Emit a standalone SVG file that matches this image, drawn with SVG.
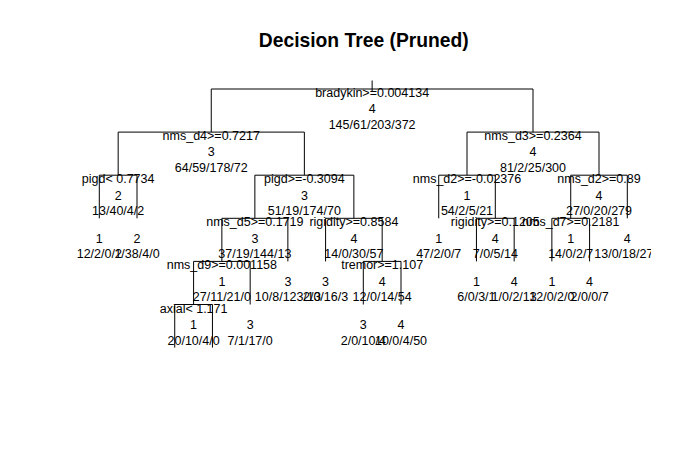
<svg xmlns="http://www.w3.org/2000/svg" width="689" height="457" viewBox="0 0 689 457">
<style>
text{font-family:"Liberation Sans",Arial,sans-serif;font-size:12.5px;fill:#000;text-anchor:middle}
.title{font-size:19.3px;font-weight:bold}
.br{fill:none;stroke:#000;stroke-width:1}
</style>
<defs><clipPath id="plot"><rect x="0" y="0" width="651" height="357"/></clipPath></defs>
<rect width="689" height="457" fill="#fff"/>
<text class="title" x="363.8" y="47">Decision Tree (Pruned)</text>
<g id="connectors" class="br">
<path d="M372.13 80.5V92"/>
<path d="M211.26 132.1V89H533V132.1"/>
<path d="M118.16 175.2V132.1H304.37V175.2"/>
<path d="M467 175.2V132.1H599V175.2"/>
<path d="M99.3 218.3V175.2H137.01V218.3"/>
<path d="M254.87 218.3V175.2H353.87V218.3"/>
<path d="M438.73 218.3V175.2H495.3V218.3"/>
<path d="M570.73 218.3V175.2H627.3V218.3"/>
<path d="M221.87 261.4V218.3H287.87V261.4"/>
<path d="M325.59 261.4V218.3H382.16V261.4"/>
<path d="M476.44 261.4V218.3H514.16V261.4"/>
<path d="M551.87 261.4V218.3H589.59V261.4"/>
<path d="M193.59 304.5V261.4H250.16V304.5"/>
<path d="M363.3 304.5V261.4H401.01V304.5"/>
<path d="M174.73 347.6V304.5H212.44V347.6"/>
</g>
<g clip-path="url(#plot)">
<g id="n_root"><text x="372.13" y="97">bradykin&gt;=0.004134</text><text x="372.13" y="113.3">4</text><text x="372.13" y="129">145/61/203/372</text></g>
<g id="n_nms_d4"><text x="211.26" y="140.1">nms_d4&gt;=0.7217</text><text x="211.26" y="156.4">3</text><text x="211.26" y="172.1">64/59/178/72</text></g>
<g id="n_nms_d3"><text x="533" y="140.1">nms_d3&gt;=0.2364</text><text x="533" y="156.4">4</text><text x="533" y="172.1">81/2/25/300</text></g>
<g id="n_pigd_lt"><text x="118.16" y="183.2">pigd&lt; 0.7734</text><text x="118.16" y="199.5">2</text><text x="118.16" y="215.2">13/40/4/2</text></g>
<g id="n_pigd_ge"><text x="304.37" y="183.2">pigd&gt;=-0.3094</text><text x="304.37" y="199.5">3</text><text x="304.37" y="215.2">51/19/174/70</text></g>
<g id="n_nms_d2a"><text x="467" y="183.2">nms_d2&gt;=-0.02376</text><text x="467" y="199.5">1</text><text x="467" y="215.2">54/2/5/21</text></g>
<g id="n_nms_d2b"><text x="599" y="183.2">nms_d2&gt;=0.89</text><text x="599" y="199.5">4</text><text x="599" y="215.2">27/0/20/279</text></g>
<g id="leaf1"><text x="99.3" y="242.6">1</text><text x="99.3" y="258.3">12/2/0/2</text></g>
<g id="leaf2"><text x="137.01" y="242.6">2</text><text x="137.01" y="258.3">1/38/4/0</text></g>
<g id="n_nms_d5"><text x="254.87" y="226.3">nms_d5&gt;=0.1719</text><text x="254.87" y="242.6">3</text><text x="254.87" y="258.3">37/19/144/13</text></g>
<g id="n_rigidity1"><text x="353.87" y="226.3">rigidity&gt;=0.8584</text><text x="353.87" y="242.6">4</text><text x="353.87" y="258.3">14/0/30/57</text></g>
<g id="leaf10"><text x="438.73" y="242.6">1</text><text x="438.73" y="258.3">47/2/0/7</text></g>
<g id="n_rigidity2"><text x="495.3" y="226.3">rigidity&gt;=0.1205</text><text x="495.3" y="242.6">4</text><text x="495.3" y="258.3">7/0/5/14</text></g>
<g id="n_nms_d7"><text x="570.73" y="226.3">nms_d7&gt;=0.2181</text><text x="570.73" y="242.6">1</text><text x="570.73" y="258.3">14/0/2/7</text></g>
<g id="leaf15"><text x="627.3" y="242.6">4</text><text x="627.3" y="258.3">13/0/18/272</text></g>
<g id="n_nms_d9"><text x="221.87" y="269.4">nms_d9&gt;=0.001158</text><text x="221.87" y="285.7">1</text><text x="221.87" y="301.4">27/11/21/0</text></g>
<g id="leaf6"><text x="287.87" y="285.7">3</text><text x="287.87" y="301.4">10/8/123/13</text></g>
<g id="leaf7"><text x="325.59" y="285.7">3</text><text x="325.59" y="301.4">2/0/16/3</text></g>
<g id="n_tremor"><text x="382.16" y="269.4">tremor&gt;=1.107</text><text x="382.16" y="285.7">4</text><text x="382.16" y="301.4">12/0/14/54</text></g>
<g id="leaf11"><text x="476.44" y="285.7">1</text><text x="476.44" y="301.4">6/0/3/1</text></g>
<g id="leaf12"><text x="514.16" y="285.7">4</text><text x="514.16" y="301.4">1/0/2/13</text></g>
<g id="leaf13"><text x="551.87" y="285.7">1</text><text x="551.87" y="301.4">12/0/2/0</text></g>
<g id="leaf14"><text x="589.59" y="285.7">4</text><text x="589.59" y="301.4">2/0/0/7</text></g>
<g id="n_axial"><text x="193.59" y="312.5">axial&lt; 1.171</text><text x="193.59" y="328.8">1</text><text x="193.59" y="344.5">20/10/4/0</text></g>
<g id="leaf5"><text x="250.16" y="328.8">3</text><text x="250.16" y="344.5">7/1/17/0</text></g>
<g id="leaf8"><text x="363.3" y="328.8">3</text><text x="363.3" y="344.5">2/0/10/4</text></g>
<g id="leaf9"><text x="401.01" y="328.8">4</text><text x="401.01" y="344.5">10/0/4/50</text></g>
</g>
</svg>
